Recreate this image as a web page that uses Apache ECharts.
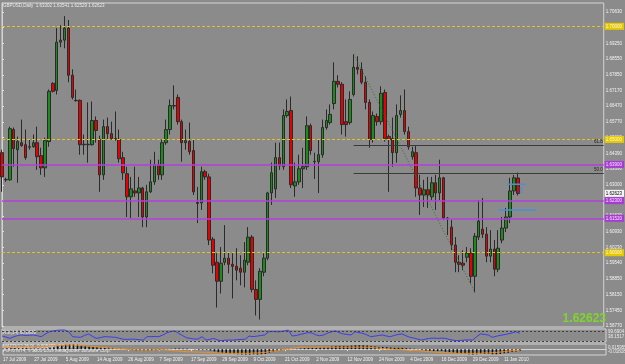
<!DOCTYPE html>
<html><head><meta charset="utf-8">
<script src="https://cdn.jsdelivr.net/npm/echarts@6/dist/echarts.min.js"></script>
<style>html,body{margin:0;padding:0;background:#8b8b8b}#c{width:625px;height:364px}</style>
</head><body><div id="c"></div>
<script>
// ---- data ----
const slotCount = 155; // bar slots across the chart (last ones empty: chart shift)
const dateTicks = ['17 Jul 2009','27 Jul 2009','5 Aug 2009','14 Aug 2009','26 Aug 2009','7 Sep 2009','17 Sep 2009','29 Sep 2009','9 Oct 2009','21 Oct 2009','2 Nov 2009','12 Nov 2009','24 Nov 2009','4 Dec 2009','16 Dec 2009','29 Dec 2009','11 Jan 2010'];
const barsPerDateTick = 8;
const yTickLabels = ['1.56770','1.57450','1.58150','1.58850','1.59540','1.60230','1.60930','1.61620','1.62310','1.63000','1.63690','1.64390','1.65080','1.65770','1.66470','1.67170','1.67850','1.68550','1.69250','1.69940','1.70630'];
// [open, close, low, high]
const candles = [
[1.6442,1.6335,1.6269,1.6455],[1.6322,1.6324,1.6313,1.6331],[1.6322,1.6548,1.6318,1.6557],[1.6544,1.6460,1.6380,1.6553],
[1.6455,1.6491,1.6309,1.6513],[1.6486,1.6473,1.6468,1.6588],[1.6477,1.6420,1.6411,1.6544],[1.6468,1.6466,1.6455,1.6500],
[1.6468,1.6486,1.6464,1.6522],[1.6486,1.6424,1.6366,1.6557],[1.6429,1.6375,1.6344,1.6464],[1.6375,1.6495,1.6335,1.6508],
[1.6491,1.6713,1.6468,1.6721],[1.6748,1.6713,1.6708,1.6753],[1.6717,1.6930,1.6699,1.6992],[1.6930,1.6939,1.6908,1.7005],
[1.6939,1.6992,1.6903,1.7045],[1.6992,1.6784,1.6753,1.7028],[1.6784,1.6686,1.6677,1.6810],[1.6673,1.6671,1.6668,1.6721],
[1.6673,1.6477,1.6433,1.6677],[1.6479,1.6477,1.6433,1.6522],[1.6477,1.6479,1.6398,1.6664],[1.6477,1.6584,1.6473,1.6668],
[1.6584,1.6540,1.6486,1.6602],[1.6500,1.6344,1.6269,1.6517],[1.6344,1.6557,1.6322,1.6588],[1.6557,1.6526,1.6500,1.6597],
[1.6526,1.6504,1.6500,1.6579],[1.6504,1.6502,1.6495,1.6624],[1.6500,1.6415,1.6398,1.6544],[1.6420,1.6353,1.6322,1.6446],
[1.6349,1.6247,1.6158,1.6380],[1.6247,1.6282,1.6153,1.6335],[1.6273,1.6264,1.6247,1.6380],[1.6264,1.6286,1.6158,1.6335],
[1.6286,1.6158,1.6113,1.6291],[1.6158,1.6269,1.6113,1.6300],[1.6269,1.6313,1.6264,1.6411],[1.6313,1.6389,1.6300,1.6446],
[1.6389,1.6344,1.6322,1.6411],[1.6344,1.6486,1.6322,1.6500],[1.6486,1.6544,1.6477,1.6588],[1.6544,1.6650,1.6522,1.6677],
[1.6650,1.6648,1.6633,1.6739],[1.6686,1.6579,1.6566,1.6699],[1.6579,1.6486,1.6402,1.6588],[1.6486,1.6495,1.6455,1.6544],
[1.6491,1.6446,1.6433,1.6575],[1.6451,1.6269,1.6255,1.6500],[1.6222,1.6218,1.6131,1.6291],[1.6220,1.6358,1.6189,1.6380],
[1.6358,1.6335,1.6322,1.6366],[1.6335,1.6056,1.6034,1.6349],[1.6060,1.5945,1.5909,1.6069],[1.5958,1.5874,1.5758,1.5998],
[1.5874,1.5954,1.5820,1.6025],[1.5958,1.5976,1.5945,1.6122],[1.5976,1.5949,1.5909,1.6003],[1.5949,1.5940,1.5798,1.5998],
[1.5940,1.5923,1.5878,1.6020],[1.5932,1.5914,1.5856,1.5989],[1.5914,1.5967,1.5847,1.6047],[1.5958,1.6069,1.5945,1.6113],
[1.6069,1.5838,1.5825,1.6078],[1.5838,1.5794,1.5723,1.5878],[1.5794,1.5918,1.5705,1.5932],[1.5914,1.5976,1.5896,1.5998],
[1.5976,1.6264,1.5967,1.6269],[1.6264,1.6353,1.6211,1.6398],[1.6282,1.6420,1.6242,1.6486],[1.6420,1.6384,1.6366,1.6486],
[1.6380,1.6606,1.6366,1.6633],[1.6606,1.6624,1.6597,1.6677],[1.6628,1.6300,1.6286,1.6690],[1.6295,1.6313,1.6247,1.6398],
[1.6313,1.6371,1.6300,1.6433],[1.6371,1.6380,1.6286,1.6464],[1.6380,1.6561,1.6366,1.6602],[1.6561,1.6451,1.6433,1.6570],
[1.6404,1.6402,1.6326,1.6442],[1.6402,1.6433,1.6264,1.6500],[1.6433,1.6553,1.6420,1.6588],[1.6553,1.6584,1.6544,1.6633],
[1.6575,1.6611,1.6566,1.6655],[1.6659,1.6757,1.6633,1.6841],[1.6757,1.6744,1.6730,1.6784],[1.6744,1.6566,1.6522,1.6753],
[1.6579,1.6566,1.6513,1.6677],[1.6575,1.6677,1.6566,1.6713],[1.6699,1.6819,1.6690,1.6877],[1.6819,1.6810,1.6788,1.6868],
[1.6810,1.6753,1.6744,1.6841],[1.6753,1.6664,1.6633,1.6779],[1.6664,1.6500,1.6464,1.6677],[1.6500,1.6606,1.6486,1.6624],
[1.6602,1.6579,1.6561,1.6615],[1.6579,1.6704,1.6566,1.6735],[1.6708,1.6504,1.6491,1.6721],[1.6513,1.6500,1.6269,1.6522],
[1.6504,1.6442,1.6380,1.6597],[1.6442,1.6606,1.6398,1.6655],[1.6611,1.6628,1.6597,1.6695],[1.6628,1.6535,1.6522,1.6721],
[1.6535,1.6468,1.6455,1.6557],[1.6424,1.6446,1.6411,1.6468],[1.6442,1.6286,1.6247,1.6473],[1.6286,1.6255,1.6167,1.6344],
[1.6255,1.6278,1.6202,1.6322],[1.6278,1.6255,1.6198,1.6335],[1.6247,1.6309,1.6233,1.6335],[1.6309,1.6264,1.6189,1.6344],
[1.6264,1.6331,1.6233,1.6411],[1.6331,1.6153,1.6144,1.6335],[1.6153,1.6151,1.6078,1.6158],[1.6113,1.6034,1.6011,1.6144],
[1.6034,1.5958,1.5914,1.6069],[1.5958,1.5949,1.5914,1.5989],[1.5954,1.5945,1.5923,1.6011],[1.5980,1.5998,1.5958,1.6025],
[1.5998,1.5896,1.5865,1.6020],[1.5896,1.6073,1.5825,1.6087],[1.6069,1.6140,1.6056,1.6233],[1.6104,1.6082,1.6065,1.6242],
[1.6082,1.5985,1.5958,1.6113],[1.5985,1.6016,1.5958,1.6100],[1.6016,1.5927,1.5896,1.6056],[1.5927,1.6020,1.5914,1.6100],
[1.6056,1.6109,1.6042,1.6158],[1.6109,1.6158,1.6091,1.6198],[1.6158,1.6273,1.6131,1.6331],[1.6273,1.6331,1.6255,1.6344],
[1.6330,1.6262,1.6253,1.6354]
];
const oscValues = [46,38,28,40,50,54,50,52,54,48,41,60,78,85,90,92,92,79,41,38,36,50,62,45,28,33,41,40,38,36,28,21,20,22,21,18,15,41,41,42,41,54,70,80,85,67,50,33,28,23,23,41,15,20,28,15,10,14,15,15,18,20,21,46,41,45,50,54,79,80,79,79,85,92,46,50,58,65,72,70,55,48,54,68,78,85,72,62,58,54,79,72,67,55,41,45,50,54,46,41,50,58,62,48,36,30,22,15,22,28,30,28,30,28,20,14,10,12,15,16,15,40,62,58,54,36,44,51,56,62,70,79,67];
const oscLevels = [85, 8];
// MACD in thousandths
const macdMain = [2,2,3,3,3,3, 3,2,2,2,1,2, 4,6,9,12,14,15,15,14, 12,10,9,8,7,6,5,5,4,3,2, 0,-2,-3,-4,-4,-5,-5,-4,-3,-3, -2,-1,1,2,2,1,1,0,-1,-2,-2,-2, -4,-7,-10,-12,-13,-14,-15,-16,-17,-17,-17,-16,-17,-16,-15, -11,-8,-6,-4,-1,1,1,1, 2,3,4,4,4,5,6,7,8,10,10,10,10,11,12, 12,12,11,9,8,7,7,6,5,4,4,4,3,2,1, -1,-3,-4,-5,-6,-6,-6,-8,-9,-11,-13,-14,-15,-16,-17,-16,-15,-15,-15,-16,-16,-15,-13,-11,-9,-7,-5];
const macdSignal = [6,6,6,7,7,7,7,7,7,8,8,9, 10,11,12,12,13,13,13,12, 11,10,9,8,7,6,5,4,3,2,1, 0,-1,-2,-2,-3,-3,-3,-3,-2,-2, -2,-3,-4,-5,-6,-7,-8,-8,-9,-9,-10,-10, -11,-11,-12,-12,-13,-13,-13,-13,-13,-13,-13,-12,-12,-11,-10, -8,-6,-5,-3,-1,1,3,5, 6,6,6,6,6,6,6,6,6,6,6,6,6,6,6,6,6,6, 5,4,3,2,1,0,-1,-1,-2,-3,-4,-4, -5,-6,-7,-8,-9,-10,-11,-11,-12,-12,-13,-13,-13,-13,-13,-13,-13,-12,-12,-11,-10,-9,-8,-6,-5,-4,-3];
const roundLevels = [1.7000, 1.6500, 1.6000];
const purpleLevels = [1.6390, 1.6230, 1.6152];
const lastPrice = 1.62623;
const fibStart = 90, fibEnd = 121, fibHigh = 1.6877, fibLow = 1.5825;
const fibRatios = [0.618, 0.5];
// blue marker segments: [fromSlot, toSlot, price]
const blueSegments = [[129.2,134.0,1.6302],[127.1,136.8,1.6189],[132.5,133.1,1.6287],[132.5,133.1,1.6277],[132.5,133.1,1.6267]];
const titleText = 'GBPUSD,Daily  1.63302 1.63541 1.62529 1.62623';
const oscTitle = 'RSI(14) 60.8869';
const oscScale = ['99.6904','38.1517'];
const macdTitle = 'MACD(12,26,9) -0.005466 -0.002985';
const copyText = 'FxPro MT4, \u00a9 2001-2009 MetaQuotes Software Corp.';
const macdScale = ['0.015955','-0.018188'];

// ---- chart ----
const categories = Array.from({length: slotCount}, (_, i) => i);
const FONT = 'Liberation Sans';
const chart = echarts.init(document.getElementById('c'), null, {renderer: 'canvas'});
const G = {left: 2, right: 19};
const hiddenCat = (gi) => ({type: 'category', gridIndex: gi, data: categories, boundaryGap: false,
  axisLine: {show: false}, axisTick: {show: false}, axisLabel: {show: false}, splitLine: {show: false}});
const tickFilter = (index) => index % barsPerDateTick === 0 && index / barsPerDateTick < dateTicks.length;

const blueSeries = blueSegments.map(s => ({type: 'line', xAxisIndex: 3, yAxisIndex: 0, symbol: 'none', silent: true,
  lineStyle: {color: '#4b8fd6', width: 1.5}, data: [[s[0], s[2]], [s[1], s[2]]]}));

const lvlLabel = (bg, fg) => ({show: true, position: 'end', distance: 1, formatter: p => Number(p.value).toFixed(5),
  fontSize: 4.5, fontFamily: FONT, color: fg, backgroundColor: bg, padding: [1, 2, 1, 1]});

const option = {
  backgroundColor: '#8b8b8b',
  animation: false,
  grid: [
    {left: G.left, right: G.right, top: 3, height: 324, show: true, borderColor: '#d4d4d4', borderWidth: 1},
    {left: G.left, right: G.right, top: 329, height: 13, show: true, borderColor: '#d4d4d4', borderWidth: 1},
    {left: G.left, right: G.right, top: 344, height: 11, show: true, borderColor: '#d4d4d4', borderWidth: 1}
  ],
  xAxis: [
    hiddenCat(0), hiddenCat(1),
    {type: 'category', gridIndex: 2, data: categories, boundaryGap: false,
      axisLine: {show: true, lineStyle: {color: '#d4d4d4'}},
      axisTick: {show: true, interval: tickFilter, length: 2, lineStyle: {color: '#e0e0e0'}},
      axisLabel: {show: true, interval: tickFilter, formatter: (v, i) => dateTicks[Math.round(i / barsPerDateTick)] || '',
        align: 'left', margin: 2, fontSize: 4.5, fontFamily: FONT, color: '#f2f2f2', hideOverlap: false},
      splitLine: {show: false}},
    {type: 'value', gridIndex: 0, min: 0, max: slotCount - 1, show: false}
  ],
  yAxis: [
    {type: 'value', gridIndex: 0, position: 'right', min: 1.5672, max: 1.7103, scale: true,
      axisLine: {show: true, lineStyle: {color: '#d4d4d4'}},
      axisTick: {show: true, length: 2, customValues: yTickLabels.map(Number), lineStyle: {color: '#e0e0e0'}},
      axisLabel: {show: true, customValues: yTickLabels.map(Number), formatter: v => v.toFixed(5), margin: 2,
        fontSize: 4.5, fontFamily: FONT, color: '#f4f4f4'},
      splitLine: {show: false}},
    {type: 'value', gridIndex: 1, position: 'right', min: 0, max: 100, axisLine: {show: false}, axisTick: {show: false}, axisLabel: {show: false}, splitLine: {show: false}},
    {type: 'value', gridIndex: 2, position: 'right', min: -18.2, max: 16, axisLine: {show: false}, axisTick: {show: false}, axisLabel: {show: false}, splitLine: {show: false}}
  ],
  series: [
    {type: 'candlestick', xAxisIndex: 0, yAxisIndex: 0, data: candles, barWidth: 3,
      itemStyle: {color: '#1a8c1a', color0: '#e80000', borderColor: '#2a2a2a', borderColor0: '#2a2a2a', borderWidth: 1},
      markLine: {symbol: ['none', 'none'], silent: true, animation: false, precision: 5,
        data: [
          ...roundLevels.map(v => ({yAxis: v, lineStyle: {color: '#e3c21a', type: [3, 2], width: 1}, label: lvlLabel('#e6c800', '#fffbe0')})),
          ...purpleLevels.map(v => ({yAxis: v, lineStyle: {color: '#b43cdc', type: 'solid', width: 1.5}, label: lvlLabel('#a93bd4', '#f4e8ff')})),
          {yAxis: lastPrice, lineStyle: {color: 'rgba(0,0,0,0)', width: 0}, label: lvlLabel('#f4f4f4', '#000')}
        ]}},
    {type: 'line', xAxisIndex: 3, yAxisIndex: 0, symbol: 'none', silent: true,
      lineStyle: {color: '#2f6e2f', width: 1, type: [1, 2]}, data: [[fibStart, fibHigh], [fibEnd, fibLow]],
      markLine: {symbol: ['none', 'none'], silent: true, animation: false, precision: 5,
        lineStyle: {color: '#3a3a3a', width: 1, type: 'solid'},
        label: {show: true, position: 'insideEndTop', distance: 1, fontSize: 4.5, fontFamily: FONT, color: '#1e1e1e'},
        data: fibRatios.map(r => {
          const lvl = fibLow + r * (fibHigh - fibLow);
          return [{coord: [fibStart, lvl], label: {formatter: (r * 100).toFixed(1)}}, {coord: [slotCount - 1, lvl]}];
        })}},
    ...blueSeries,
    {type: 'line', xAxisIndex: 1, yAxisIndex: 1, data: oscValues, symbol: 'none', silent: true,
      lineStyle: {color: '#3c3cf0', width: 1},
      markLine: {symbol: ['none', 'none'], silent: true, label: {show: false},
        lineStyle: {color: '#404040', type: [2, 2], width: 1}, data: oscLevels.map(v => ({yAxis: v}))}},
    {type: 'bar', xAxisIndex: 2, yAxisIndex: 2, data: macdMain, barWidth: 1.6, silent: true, itemStyle: {color: '#101010'}},
    {type: 'line', xAxisIndex: 2, yAxisIndex: 2, data: macdSignal, symbol: 'none', silent: true,
      lineStyle: {color: '#f09020', width: 1}}
  ],
  graphic: [
    {type: 'text', left: 3, top: 3, style: {text: titleText, font: `4.5px "${FONT}"`, fill: '#ececec'}},
    {type: 'text', left: 3, top: 330, style: {text: oscTitle, font: `4.5px "${FONT}"`, fill: '#ececec'}},
    {type: 'text', left: 608, top: 329, style: {text: oscScale[0], font: `4.5px "${FONT}"`, fill: '#ececec'}},
    {type: 'text', left: 608, top: 334, style: {text: oscScale[1], font: `4.5px "${FONT}"`, fill: '#ececec'}},
    {type: 'text', left: 3, top: 344.5, style: {text: macdTitle, font: `4.5px "${FONT}"`, fill: '#ececec'}},
    {type: 'text', left: 3, top: 348.5, style: {text: copyText, font: `4.5px "${FONT}"`, fill: '#ececec'}},
    {type: 'text', left: 608, top: 345, style: {text: macdScale[0], font: `4.5px "${FONT}"`, fill: '#ececec'}},
    {type: 'text', left: 608, top: 349.5, style: {text: macdScale[1], font: `4.5px "${FONT}"`, fill: '#ececec'}},
    {type: 'text', right: 19, top: 313, style: {text: lastPrice.toFixed(5), font: `bold 12px "${FONT}"`, fill: '#7fd62a'}}
  ]
};
chart.setOption(option);
</script>
</body></html>
